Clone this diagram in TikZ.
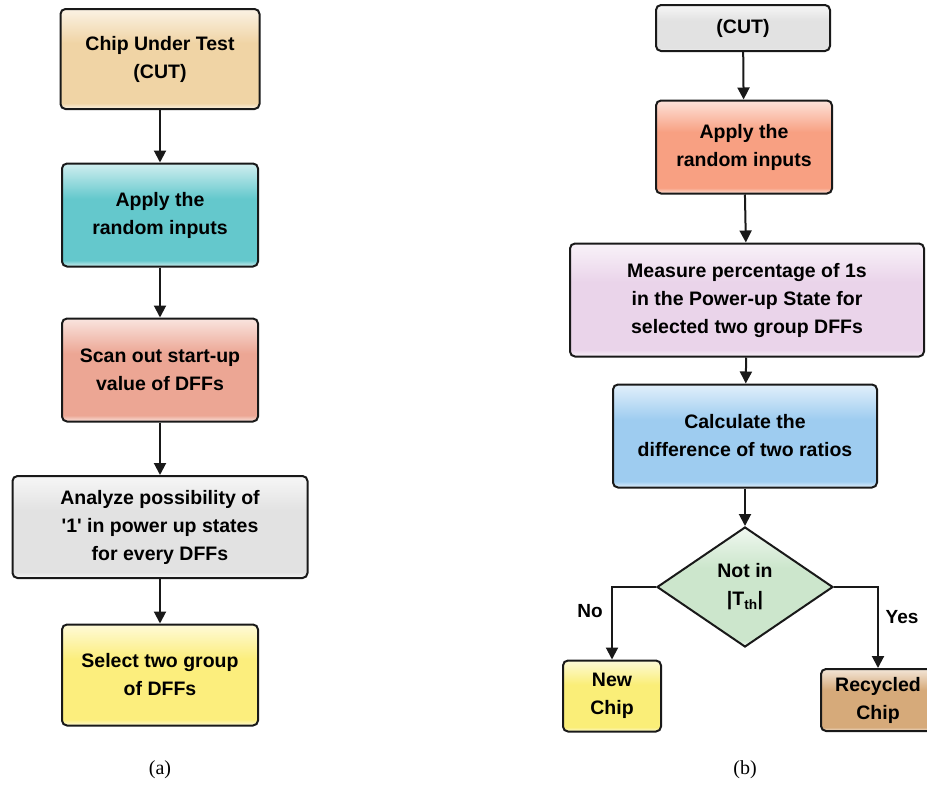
\documentclass[tikz,border=0pt]{standalone}
\usepackage{fontspec}
\setmainfont{Liberation Serif}
\setsansfont{Liberation Sans}[Ligatures=TeXOff]
\usetikzlibrary{arrows.meta,shapes.geometric,positioning}
\definecolor{cTan}{RGB}{240,212,165}
\definecolor{cTeal}{RGB}{100,200,204}
\definecolor{cSalA}{RGB}{236,166,148}
\definecolor{cGray}{RGB}{226,226,226}
\definecolor{cYel}{RGB}{252,238,125}
\definecolor{cSalB}{RGB}{248,160,130}
\definecolor{cLav}{RGB}{234,212,234}
\definecolor{cBlue}{RGB}{158,204,240}
\definecolor{cGreen}{RGB}{204,230,204}
\definecolor{cNew}{RGB}{250,238,120}
\definecolor{cRec}{RGB}{214,170,122}
\definecolor{cLine}{RGB}{25,25,25}
\colorlet{boxmain}{white}
\colorlet{boxlight}{white}
\pgfdeclareverticalshading[boxmain,boxlight]{boxshade}{100bp}{%
  color(0bp)=(boxlight); color(25bp)=(boxlight); color(28bp)=(boxmain);
  color(58bp)=(boxmain); color(75bp)=(boxlight); color(100bp)=(boxlight)}
\tikzset{
  box/.style={draw=cLine, line width=2pt, rounded corners=5pt, align=center,
    font=\sffamily\bfseries\fontsize{19.5}{28}\selectfont, inner sep=0pt},
  shade3/.style={/utils/exec={\colorlet{boxmain}{#1}\colorlet{boxlight}{#1!30!white}},
    shading=boxshade, shading angle=0},
  arr/.style={draw=cLine, line width=2pt, -{Triangle[length=12pt,width=12pt]}},
  lbl/.style={font=\sffamily\bfseries\fontsize{19}{22}\selectfont},
  captext/.style={font=\fontsize{20}{24}\selectfont}
}
\begin{document}
\begin{tikzpicture}[x=1pt,y=-1pt]
\useasboundingbox (0,0) rectangle (927,785);
% left column
\node[box, shade3=cTan, minimum width=199pt, minimum height=100pt] (a1) at (160,59) {Chip Under Test\\(CUT)};
\node[box, shade3=cTeal, minimum width=196pt, minimum height=103pt] (a2) at (160,215) {Apply the\\random inputs};
\node[box, shade3=cSalA, minimum width=196pt, minimum height=103pt] (a3) at (160,370) {Scan out start-up\\value of DFFs};
\node[box, shade3=cGray, minimum width=295pt, minimum height=102pt] (a4) at (160,527) {Analyze possibility of\\'1' in power up states\\for every DFFs};
\node[box, shade3=cYel, minimum width=196pt, minimum height=101pt] (a5) at (160,675) {Select two group\\of DFFs};
\draw[arr] (a1) -- (a2);
\draw[arr] (a2) -- (a3);
\draw[arr] (a3) -- (a4);
\draw[arr] (a4) -- (a5);
% right column
\node[box, shade3=cGray, minimum width=174pt, minimum height=46pt] (b1) at (743,28) {(CUT)};
\node[box, shade3=cSalB, minimum width=176pt, minimum height=93pt] (b2) at (744,147) {Apply the\\random inputs};
\node[box, shade3=cLav, minimum width=354pt, minimum height=113pt] (b3) at (747,300) {Measure percentage of 1s\\in the Power-up State for\\selected two group DFFs};
\node[box, shade3=cBlue, minimum width=264pt, minimum height=103pt] (b4) at (745,436) {Calculate the\\difference of two ratios};
\node[diamond, draw=cLine, line width=2pt, shade3=cGreen, minimum width=176pt, minimum height=120pt, inner sep=0pt, align=center,
  font=\sffamily\bfseries\fontsize{19.5}{28}\selectfont] (d) at (745,587) {Not in\\|T\textsubscript{th}|};
\node[box, shade3=cNew, minimum width=98pt, minimum height=71pt] (nc) at (612,696) {New\\Chip};
\node[box, shade3=cRec, minimum width=114pt, minimum height=62pt] (rc) at (878,700) {Recycled\\Chip};
\draw[arr] (b1) -- (b2);
\draw[arr] (b2) -- (b3);
\draw[arr] (b3) -- (b4);
\draw[arr] (b4) -- (d);
\draw[arr] (d.west) -| (nc.north);
\draw[arr] (d.east) -| (rc.north);
\node[lbl] (no) at (590,611) {No};
\node[lbl] (yes) at (902,617) {Yes};
\node[captext] (ca) at (160,770) {(a)};
\node[captext] (cb) at (745,770) {(b)};
\end{tikzpicture}
\end{document}
